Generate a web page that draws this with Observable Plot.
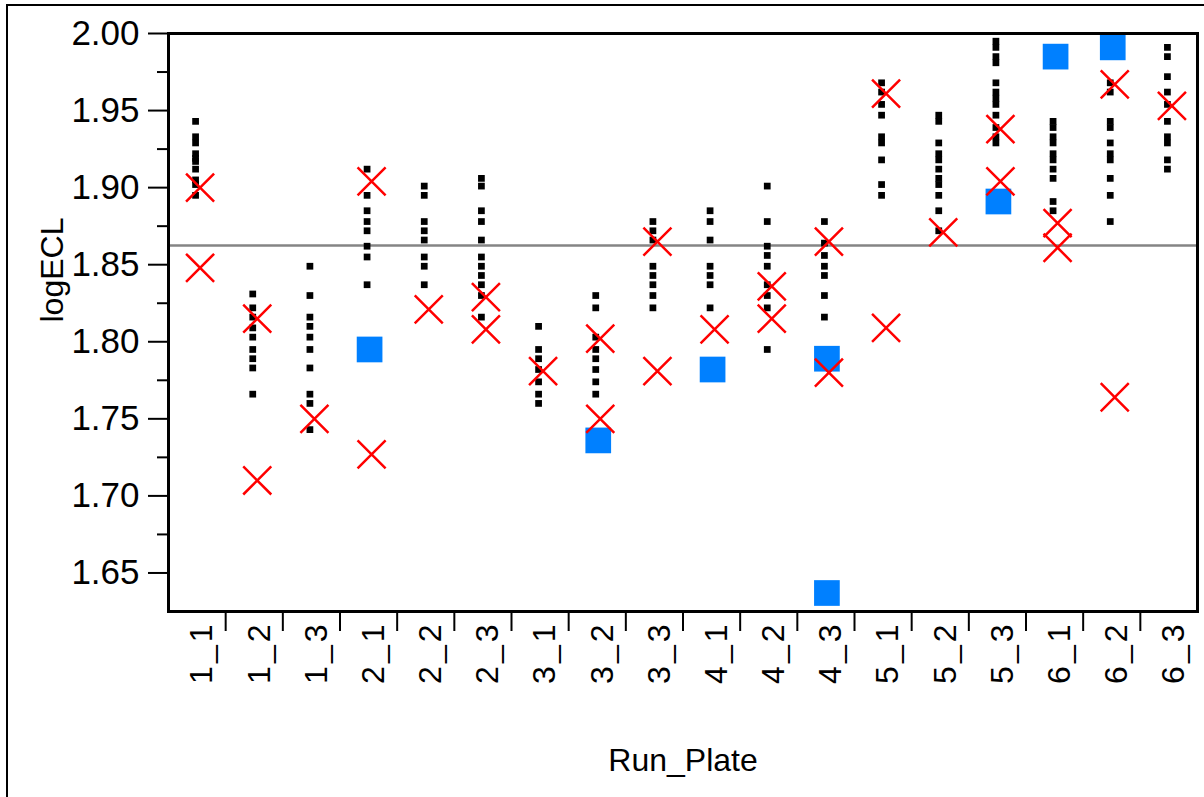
<!DOCTYPE html>
<html><head><meta charset="utf-8">
<script src="https://cdn.jsdelivr.net/npm/d3@7"></script>
<script src="https://cdn.jsdelivr.net/npm/@observablehq/plot@0.6"></script>
<style>
body{margin:0;background:#fff;}
#wrap{position:relative;width:1204px;height:797px;overflow:hidden;background:#fff;}
#border{position:absolute;left:6px;top:4px;width:1300px;height:900px;border-left:2.5px solid #000;border-top:2.5px solid #000;pointer-events:none;}
#chart{position:absolute;left:0;top:0;}
</style></head><body>
<div id="wrap"><div id="chart"></div><div id="border"></div></div>
<script>
const runPlate = ["1_1","1_2","1_3","2_1","2_2","2_3","3_1","3_2","3_3","4_1","4_2","4_3","5_1","5_2","5_3","6_1","6_2","6_3"];

// replicate values (black dots), one list per Run_Plate
const replicateValues = [
  [1.943,1.933,1.929,1.922,1.919,1.917,1.912,1.905,1.902,1.895],
  [1.831,1.822,1.816,1.809,1.803,1.795,1.789,1.783,1.766],
  [1.849,1.830,1.816,1.810,1.803,1.795,1.783,1.766,1.760,1.743],
  [1.912,1.895,1.885,1.878,1.872,1.862,1.855,1.837],
  [1.901,1.895,1.878,1.872,1.866,1.855,1.849,1.837],
  [1.906,1.901,1.885,1.878,1.866,1.855,1.849,1.843,1.837,1.830,1.816],
  [1.810,1.795,1.789,1.782,1.774,1.766,1.760],
  [1.830,1.822,1.803,1.795,1.789,1.782,1.774,1.766],
  [1.878,1.872,1.866,1.849,1.843,1.837,1.830,1.822],
  [1.885,1.878,1.866,1.849,1.843,1.837,1.822],
  [1.901,1.878,1.862,1.856,1.849,1.837,1.830,1.822,1.795],
  [1.878,1.864,1.856,1.849,1.843,1.830,1.816],
  [1.968,1.962,1.954,1.947,1.933,1.929,1.918,1.902,1.895],
  [1.947,1.943,1.929,1.922,1.918,1.912,1.906,1.902,1.895,1.885,1.872],
  [1.995,1.991,1.985,1.981,1.968,1.962,1.958,1.954,1.947,1.939,1.933,1.929],
  [1.943,1.939,1.933,1.929,1.922,1.918,1.912,1.906,1.891,1.885],
  [1.968,1.962,1.943,1.939,1.929,1.922,1.918,1.906,1.895,1.878],
  [1.991,1.985,1.972,1.962,1.954,1.943,1.933,1.929,1.918,1.912]
];

// red X markers
const crossGroup = ["1_1","1_1","1_2","1_2","1_3","2_1","2_1","2_2","2_3","2_3","3_1","3_2","3_2","3_3","3_3","4_1","4_2","4_2","4_3","4_3","5_1","5_1","5_2","5_3","5_3","6_1","6_1","6_2","6_2","6_3"];
const crossValue = [1.900,1.848,1.815,1.710,1.750,1.904,1.727,1.821,1.829,1.808,1.781,1.802,1.750,1.865,1.781,1.808,1.836,1.815,1.865,1.780,1.961,1.809,1.871,1.938,1.904,1.877,1.861,1.967,1.764,1.953];

// blue squares
const squareGroup = ["2_1","3_2","4_1","4_3","4_3","5_3","6_1","6_2"];
const squareValue = [1.795,1.736,1.782,1.789,1.637,1.891,1.985,1.991];

const refLine = 1.8624;
const yMajor = [1.65,1.70,1.75,1.80,1.85,1.90,1.95,2.00];
const yMinor = [1.675,1.725,1.775,1.825,1.875,1.925,1.975];

const pos = new Map(runPlate.map((d, i) => [d, i + 0.5]));
const dots = replicateValues.flatMap((vals, i) => vals.map(v => ({x: i + 0.5, y: v})));
const crosses = crossGroup.map((g, i) => ({x: pos.get(g), y: crossValue[i]}));
const squares = squareGroup.map((g, i) => ({x: pos.get(g), y: squareValue[i]}));

const chart = Plot.plot({
  width: 1204,
  height: 797,
  marginLeft: 168,
  marginRight: 7,
  marginTop: 33,
  marginBottom: 186,
  style: {fontFamily: "'Liberation Sans', Arial, sans-serif", fontSize: "32px", color: "#000", background: "transparent", overflow: "visible"},
  x: {type: "linear", domain: [0, 18]},
  y: {domain: [1.625, 2.0]},
  marks: [
    Plot.ruleY([refLine], {stroke: "#858585", strokeWidth: 2.5}),
    Plot.dot(dots, {x: "x", y: "y", symbol: "square", r: 3.8, fill: "#000", dx: -1.5}),
    Plot.dot(squares, {x: "x", y: "y", symbol: "square", r: 14.5, fill: "#0080ff", dx: 1}),
    Plot.dot(crosses, {x: "x", y: "y", symbol: "times", r: 12.8, stroke: "#ff0000", strokeWidth: 2.5, dx: 3}),
    Plot.frame({stroke: "#000", strokeWidth: 3}),
    Plot.axisY({ticks: yMajor, tickSize: 20, tickPadding: 9, tickFormat: d3.format(".2f"), label: null, fontSize: 35, strokeWidth: 2}),
    Plot.axisY({ticks: yMinor, tickSize: 11, tickFormat: () => "", label: null, strokeWidth: 2}),
    Plot.axisX({ticks: d3.range(1, 18), tickSize: 20, tickFormat: () => "", label: null, strokeWidth: 2}),
    Plot.axisX({ticks: d3.range(18).map(i => i + 0.5), tickSize: 0, tickPadding: 10, tickRotate: -90, dx: 5, tickFormat: d => runPlate[Math.floor(d)], label: null, fontSize: 32}),
    Plot.text(["logECL"], {frameAnchor: "left", dx: -116, rotate: -90, fontSize: 32, text: d => d}),
    Plot.text(["Run_Plate"], {frameAnchor: "bottom", dy: 149, lineAnchor: "middle", fontSize: 32, text: d => d})
  ]
});
chart.querySelectorAll("g[aria-label='x-axis tick label'] text").forEach(t => t.style.letterSpacing = "3px");
document.getElementById("chart").appendChild(chart);
</script>
</body></html>
